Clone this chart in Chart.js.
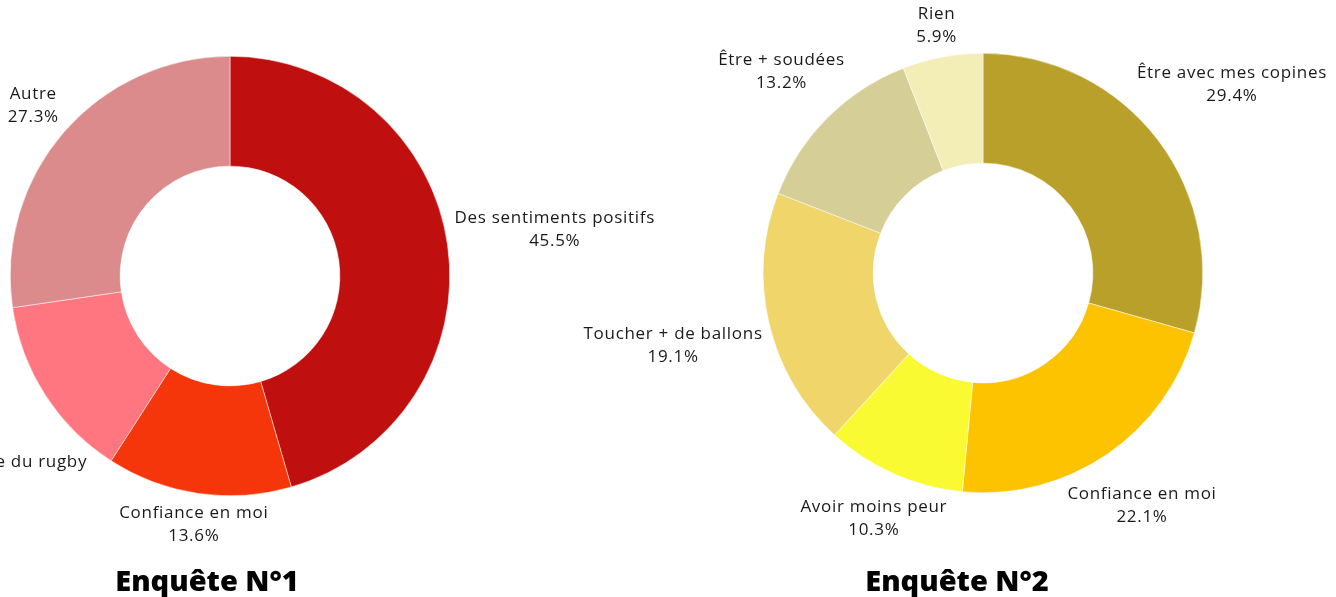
<!DOCTYPE html>
<html>
<head>
<meta charset="utf-8">
<script src="https://cdn.jsdelivr.net/npm/chart.js@4/dist/chart.umd.min.js"></script>
<style>
  html, body { margin: 0; padding: 0; background: #fff; }
  body { width: 1336px; height: 597px; position: relative; overflow: hidden; }
  .box { position: absolute; top: 0; height: 597px; }
  #box1 { left: 0; width: 680px; }
  #box2 { left: 560px; width: 776px; }
  .titre {
    position: absolute; top: 565px; font-family: "Open Sans", sans-serif;
    font-weight: 800; font-size: 29px; line-height: 1; color: #000; white-space: nowrap;
    transform: translateX(-50%);
  }
</style>
</head>
<body>
<div class="box" id="box1"><canvas id="chart1"></canvas></div>
<div class="box" id="box2"><canvas id="chart2"></canvas></div>
<div class="titre" style="left:207px">Enquête N°1</div>
<div class="titre" style="left:957px">Enquête N°2</div>
<script>
// Enquête 1
const labels1 = ["Des sentiments positifs", "Confiance en moi", "Mieux comprendre le monde du rugby", "Autre"];
const valeurs1 = [45.5, 13.6, 13.6, 27.3];
const couleurs1 = ["#bf0f0f", "#f5360a", "#ff7580", "#db8b8b"];

// Enquête 2
const labels2 = ["Être avec mes copines", "Confiance en moi", "Avoir moins peur", "Toucher + de ballons", "Être + soudées", "Rien"];
const valeurs2 = [29.4, 22.1, 10.3, 19.1, 13.2, 5.9];
const couleurs2 = ["#b9a02a", "#fdc300", "#fafa32", "#f0d56a", "#d5ce96", "#f3edb6"];

const police = "17px 'Open Sans', sans-serif";
const interligne = 23;
const decalage = 6;

// distance du centre au point le plus proche de la boite
const distBoite = (cx, cy, hw, hh) => {
  const px = Math.max(Math.abs(cx) - hw, 0);
  const py = Math.max(Math.abs(cy) - hh, 0);
  return Math.hypot(px, py);
};

// etiquettes en dehors de l'anneau, centrees sur le rayon du milieu de la part
const etiquettesExt = {
  id: "etiquettesExt",
  afterDatasetsDraw(chart) {
    const ctx = chart.ctx;
    const meta = chart.getDatasetMeta(0);
    const data = chart.data.datasets[0].data;
    ctx.save();
    ctx.font = police;
    ctx.letterSpacing = "0.7px";
    ctx.fillStyle = "#1a1a1a";
    ctx.textAlign = "center";
    ctx.textBaseline = "middle";
    meta.data.forEach((arc, i) => {
      const p = arc.getProps(["x", "y", "startAngle", "endAngle", "outerRadius"], true);
      const mid = (p.startAngle + p.endAngle) / 2;
      const vx = Math.cos(mid);
      const vy = Math.sin(mid);
      const lignes = [chart.data.labels[i], data[i].toFixed(1) + "%"];
      const hw = Math.max(...lignes.map((l) => ctx.measureText(l).width)) / 2;
      const hh = (lignes.length * interligne) / 2;
      const cible = p.outerRadius + decalage;
      let lo = cible, hi = cible + hw + hh + 50;
      for (let k = 0; k < 40; k++) {
        const d = (lo + hi) / 2;
        if (distBoite(d * vx, d * vy, hw, hh) < cible) lo = d; else hi = d;
      }
      const cx = p.x + lo * vx;
      const cy = p.y + lo * vy;
      lignes.forEach((l, k) => {
        ctx.fillText(l, cx, cy - hh + interligne / 2 + k * interligne);
      });
    });
    ctx.restore();
  },
};

const creerDonut = (id, labels, valeurs, couleurs, padding) => {
  return new Chart(document.getElementById(id), {
    type: "doughnut",
    data: {
      labels: labels,
      datasets: [
        {
          data: valeurs,
          backgroundColor: couleurs,
          borderWidth: 0.5,
          borderColor: "#ffffff",
        },
      ],
    },
    options: {
      responsive: true,
      maintainAspectRatio: false,
      animation: false,
      cutout: "50%",
      layout: { padding: padding },
      plugins: {
        legend: { display: false },
        tooltip: { enabled: false },
      },
    },
    plugins: [etiquettesExt],
  });
};

creerDonut("chart1", labels1, valeurs1, couleurs1, { left: 10, right: 230, top: 56, bottom: 101 });
creerDonut("chart2", labels2, valeurs2, couleurs2, { left: 203, right: 133, top: 53, bottom: 104 });
</script>
</body>
</html>
